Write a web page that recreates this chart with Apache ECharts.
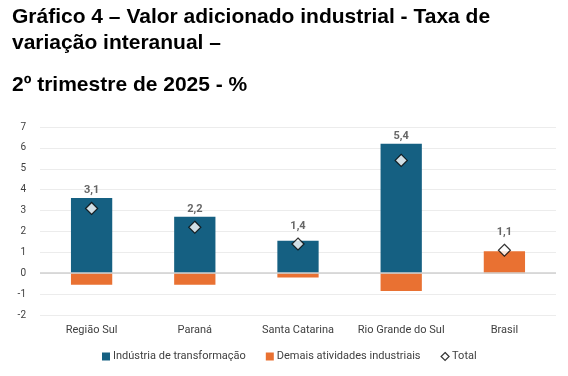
<!DOCTYPE html>
<html lang="pt">
<head>
<meta charset="UTF-8">
<script src="https://cdn.jsdelivr.net/npm/echarts@6/dist/echarts.min.js"></script>
<style>
  body { margin: 0; background: #fff; }
  #chart { width: 568px; height: 376px; }
</style>
</head>
<body>
<div id="chart"></div>
<script>
var regioes = ['Região Sul', 'Paraná', 'Santa Catarina', 'Rio Grande do Sul', 'Brasil'];
var transformacao = [3.6, 2.7, 1.55, 6.2, 0];
var demais = [-0.55, -0.55, -0.2, -0.85, 1.05];
var total = [3.1, 2.2, 1.4, 5.4, 1.1];
var eixoY = [-2, 7, 1];

var myChart = echarts.init(document.getElementById('chart'));
var fonte = 'Roboto, "Noto Sans", sans-serif';
var estiloTitulo = {
  fontFamily: '"Liberation Sans", Arial, sans-serif',
  fontWeight: 'bold',
  fontSize: 21,
  lineHeight: 26,
  color: '#000'
};

// o rótulo do RS fica acima da barra
var pontos = total.map(function (v, i) {
  var item = { value: v };
  if (i === 3) item.label = { distance: 12 };
  return item;
});

var option = {
  animation: false,
  title: [
    {
      text: 'Gráfico 4 – Valor adicionado industrial - Taxa de\nvariação interanual –',
      left: 12, top: 4, padding: 0,
      textStyle: estiloTitulo
    },
    {
      text: '2º trimestre de 2025 - %',
      left: 12, top: 72, padding: 0,
      textStyle: estiloTitulo
    }
  ],
  grid: { left: 40, right: 12, top: 127, bottom: 61 },
  legend: {
    bottom: 9,
    left: 97,
    itemWidth: 8,
    itemHeight: 8,
    itemGap: 20,
    textStyle: { fontFamily: fonte, fontSize: 11, color: '#404040', padding: [0, 0, 0, -2] },
    data: [
      { name: 'Indústria de transformação', icon: 'rect' },
      { name: 'Demais atividades industriais', icon: 'rect' },
      { name: 'Total', icon: 'diamond', itemStyle: { color: '#fff', borderColor: '#000', borderWidth: 1.2 } }
    ]
  },
  xAxis: {
    type: 'category',
    data: regioes,
    axisTick: { show: false },
    axisLine: { show: false },
    axisLabel: { interval: 0, fontFamily: fonte, fontSize: 11, color: '#404040', margin: 10 }
  },
  yAxis: {
    type: 'value',
    min: eixoY[0],
    max: eixoY[1],
    interval: eixoY[2],
    axisLabel: { fontFamily: fonte, fontSize: 10, color: '#404040', margin: 14 },
    splitLine: { lineStyle: { color: '#ececec' } },
    axisLine: { show: false }
  },
  series: [
    {
      name: 'Indústria de transformação',
      type: 'bar',
      stack: 'total',
      barWidth: '40%',
      itemStyle: { color: '#156082' },
      data: transformacao
    },
    {
      name: 'Demais atividades industriais',
      type: 'bar',
      stack: 'total',
      itemStyle: { color: '#E97132' },
      data: demais,
      markLine: {
        silent: true,
        symbol: 'none',
        label: { show: false },
        lineStyle: { color: '#d0d0d0', type: 'solid', width: 1.5 },
        data: [{ yAxis: 0 }]
      }
    },
    {
      name: 'Total',
      type: 'scatter',
      symbol: 'diamond',
      symbolSize: 12,
      itemStyle: { color: '#fff', borderColor: '#000', borderWidth: 1.2 },
      label: {
        show: true,
        position: 'top',
        distance: 6,
        fontFamily: fonte,
        fontSize: 11,
        fontWeight: 'bold',
        color: '#404040',
        formatter: function (p) { return p.value.toFixed(1).replace('.', ','); }
      },
      z: 5,
      data: pontos
    }
  ]
};

myChart.setOption(option);
</script>
</body>
</html>
